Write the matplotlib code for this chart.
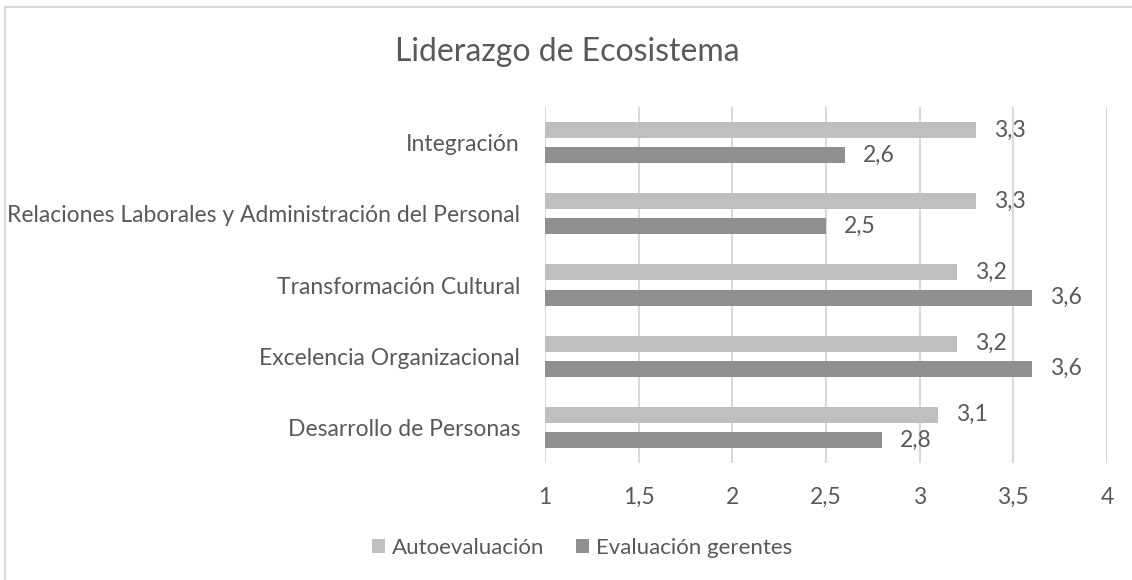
import matplotlib.pyplot as plt
import numpy as np
from matplotlib.patches import Rectangle

categories = ['Desarrollo de Personas', 'Excelencia Organizacional', 'Transformación Cultural',
              'Relaciones Laborales y Administración del Personal', 'Integración']
auto = [3.1, 3.2, 3.2, 3.3, 3.3]
gerentes = [2.8, 3.6, 3.6, 2.5, 2.6]
xticks = [1, 1.5, 2, 2.5, 3, 3.5, 4]
xticklabels = ['1', '1,5', '2', '2,5', '3', '3,5', '4']

txt = '#595959'
plt.rcParams['font.family'] = ['Lato', 'DejaVu Sans']

fig = plt.figure(figsize=(11.32, 5.8), dpi=100)
ax = fig.add_axes([545/1132, 1 - 463/580, (1107 - 545)/1132, (463 - 107)/580])

y = np.arange(len(categories))
h = 0.225
off = 0.177
ax.barh(y + off, [v - 1 for v in auto], left=1, height=h, color='#BFBFBF', label='Autoevaluación', zorder=3)
ax.barh(y - off, [v - 1 for v in gerentes], left=1, height=h, color='#8F8F8F', label='Evaluación gerentes', zorder=3)

for i in range(len(categories)):
    ax.text(auto[i] + 0.095, y[i] + off, f'{auto[i]:.1f}'.replace('.', ','), va='center', ha='left',
            fontsize=16.5, color=txt)
    ax.text(gerentes[i] + 0.095, y[i] - off, f'{gerentes[i]:.1f}'.replace('.', ','), va='center', ha='left',
            fontsize=16.5, color=txt)

ax.set_xlim(1, 4)
ax.set_ylim(-0.5, len(categories) - 0.5)
ax.set_xticks(xticks)
ax.set_xticklabels(xticklabels)
ax.set_yticks(y)
ax.set_yticklabels(categories)
ax.tick_params(axis='both', length=0, labelsize=16.5, colors=txt)
ax.tick_params(axis='y', pad=18)
ax.tick_params(axis='x', pad=17)
ax.grid(axis='x', color='#D9D9D9', lw=1.5, zorder=0)
for s in ax.spines.values():
    s.set_visible(False)

fig.text(567/1132, 1 - 52/580, 'Liderazgo de Ecosistema', ha='center', va='center', fontsize=23, color=txt)

handles, labels = ax.get_legend_handles_labels()
fig.legend(handles, labels, loc='center', bbox_to_anchor=(582/1132, 1 - 548/580), ncol=2, frameon=False,
           fontsize=16, labelcolor=txt, handlelength=0.6, handleheight=0.6, handletextpad=0.3,
           columnspacing=1.4)

fig.patches.append(Rectangle((5/1132, -0.1), 1.2, 1 - 7/580 + 0.1, transform=fig.transFigure,
                             fill=False, edgecolor='#D9D9D9', lw=1.5))

fig.savefig('out.png', dpi=100)
